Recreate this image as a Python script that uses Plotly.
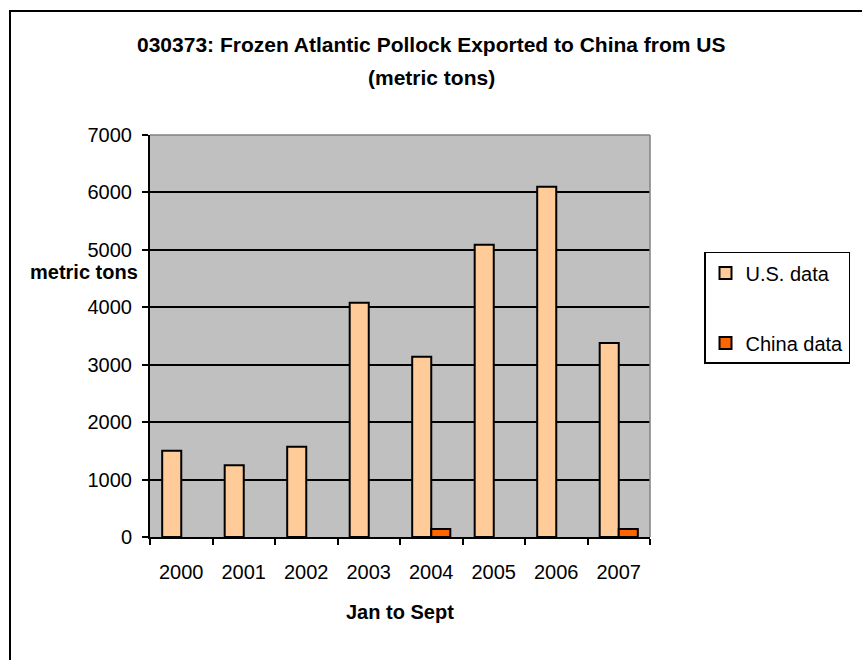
import plotly.graph_objects as go

# Export volumes, January to September of each year (metric tons)
years = ["2000", "2001", "2002", "2003", "2004", "2005", "2006", "2007"]
us_data = [1500, 1250, 1570, 4080, 3140, 5090, 6100, 3380]
china_data = [None, None, None, None, 140, None, None, 140]
y_ticks = [0, 1000, 2000, 3000, 4000, 5000, 6000, 7000]

FONT = "Liberation Sans, Arial, sans-serif"

fig = go.Figure()
fig.add_trace(go.Bar(
    x=years, y=us_data, name="U.S. data", legendgroup="us",
    marker=dict(color="#FFCC99", line=dict(color="black", width=2)),
))
fig.add_trace(go.Bar(
    x=years, y=china_data, name="China data", legendgroup="cn",
    marker=dict(color="#FF6600", line=dict(color="black", width=2)),
))

fig.update_layout(
    width=862, height=660,
    margin=dict(l=150, r=212, t=135, b=123),
    paper_bgcolor="white",
    plot_bgcolor="#C0C0C0",
    barmode="group", bargap=0.39, bargroupgap=0,
    font=dict(family=FONT, size=20, color="black"),
    legend=dict(
        x=1.108, y=0.709, xanchor="left", yanchor="top",
        bgcolor="white", bordercolor="black", borderwidth=1.5,
        tracegroupgap=41, font=dict(size=20),
    ),
    showlegend=True,
)

fig.update_xaxes(
    type="category", showline=True, linecolor="black", linewidth=2,
    ticks="outside", tickson="boundaries", ticklen=6, tickwidth=1.5, tickcolor="black",
    showgrid=False, ticklabelstandoff=16,
)
fig.update_yaxes(
    range=[0, 7000], tickvals=y_ticks, showline=True, linecolor="black", linewidth=2,
    ticks="outside", ticklen=6, tickwidth=1.5, tickcolor="black",
    showgrid=True, gridcolor="black", gridwidth=2, zeroline=False,
    ticklabelstandoff=6,
)

# Plot area outline on top and right
fig.add_shape(type="line", xref="paper", yref="paper", x0=0, x1=1, y0=1, y1=1,
              line=dict(color="#808080", width=1.5))
fig.add_shape(type="line", xref="paper", yref="paper", x0=1, x1=1, y0=0, y1=1,
              line=dict(color="#808080", width=1.5))

# Chart area frame
fig.add_shape(type="rect", xref="paper", yref="paper",
              x0=-0.28, x1=1.45, y0=-0.34, y1=1.3085,
              line=dict(color="black", width=2), layer="above")

# Chart title, two lines
fig.add_annotation(
    text="<b>030373: Frozen Atlantic Pollock Exported to China from US</b>",
    xref="paper", yref="paper", x=0.562, y=1.224, xanchor="center", yanchor="middle",
    showarrow=False, font=dict(family=FONT, size=21),
)
fig.add_annotation(
    text="<b>(metric tons)</b>",
    xref="paper", yref="paper", x=0.562, y=1.142, xanchor="center", yanchor="middle",
    showarrow=False, font=dict(family=FONT, size=21),
)

# Axis captions
fig.add_annotation(
    text="<b>metric tons</b>", xref="paper", yref="paper",
    x=-0.02, y=0.66, xanchor="right", yanchor="middle",
    showarrow=False, font=dict(family=FONT, size=20),
)
fig.add_annotation(
    text="<b>Jan to Sept</b>", xref="paper", yref="paper",
    x=0.5, y=-0.187, xanchor="center", yanchor="middle",
    showarrow=False, font=dict(family=FONT, size=20),
)

fig.write_html("out.html")
